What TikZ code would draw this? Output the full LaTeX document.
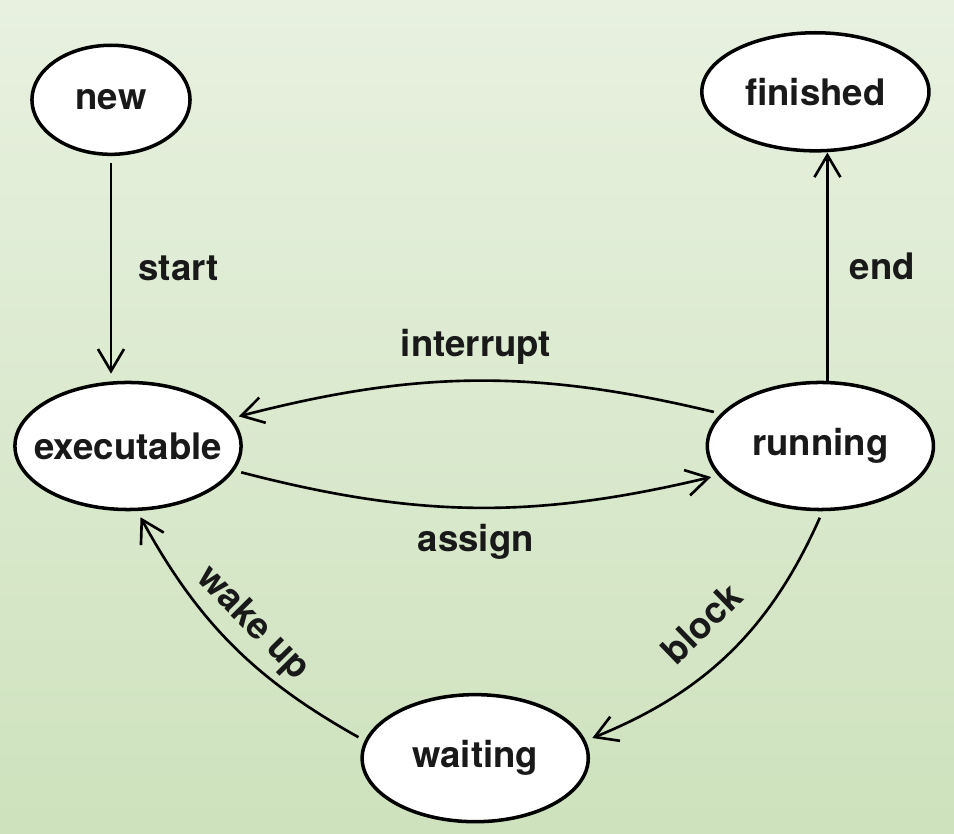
\documentclass[tikz,border=0pt]{standalone}
\usepackage{fontspec}
\setmainfont{TeX Gyre Heros}
\usetikzlibrary{shapes.geometric, arrows.meta, positioning}
\definecolor{bgtop}{RGB}{232,241,224}
\definecolor{bgbot}{RGB}{206,226,189}
\definecolor{ink}{RGB}{25,25,25}

\begin{document}
\begin{tikzpicture}[x=0.01cm, y=-0.01cm, node distance=6.92cm, font=\fontsize{10.4}{12}\selectfont\bfseries, text=ink]
    \tikzstyle{state} = [ellipse, draw, fill=white, line width=1pt, inner sep=0pt, minimum width=2.26cm, minimum height=1.27cm]
    \tikzstyle{line} = [draw, -{Straight Barb[length=2.2mm, width=2.6mm]}, line width=0.75pt, shorten >=2pt, shorten <=2pt]
    \tikzstyle{tag} = [inner sep=0pt]

    % Background
    \shade [top color=bgtop, bottom color=bgbot] (0,0) rectangle (954,834);

    % States
    \node [state] (exe) at (128,446) {\makebox[0pt]{executable}};
    \node [state, right of=exe] (run) {\makebox[0pt]{running}};
    \node [state, above of=exe, node distance=3.46cm, xshift=-0.17cm, minimum width=1.58cm, minimum height=1.09cm] (new) {\makebox[0pt]{new}};
    \node [state, above of=run, node distance=3.54cm, xshift=-0.05cm, minimum width=2.27cm, minimum height=1.18cm] (fin) {\makebox[0pt]{finished}};
    \node [state, right of=exe, node distance=3.47cm, yshift=-3.12cm] (wait) {\makebox[0pt]{waiting}};

    % Transitions
    \path [line] (new.south) -- (new.south |- exe.north) node [tag, midway, right=0.26cm] {start};
    \path [line, shorten <=0pt, shorten >=0pt] ([xshift=0.07cm]run.north) -- ([xshift=0.07cm]run.north |- fin.south) node [tag, midway, right=0.21cm] {end};
    \path [line] (run.162) to [bend right=14] node [tag, midway, above=0.15cm] {interrupt} (exe.15);
    \path [line] (exe.-13) to [bend right=14] node [tag, midway, below=0.16cm] {assign} (run.-164);
    \path [line] (run.-88) to [bend left=22] node [tag, midway, sloped, above=0.25cm] {block} (wait.9);
    \path [line] (wait.171) to [bend left=16] node [tag, midway, sloped, above=0.1cm] {wake up} (exe.-82);
\end{tikzpicture}
\end{document}
